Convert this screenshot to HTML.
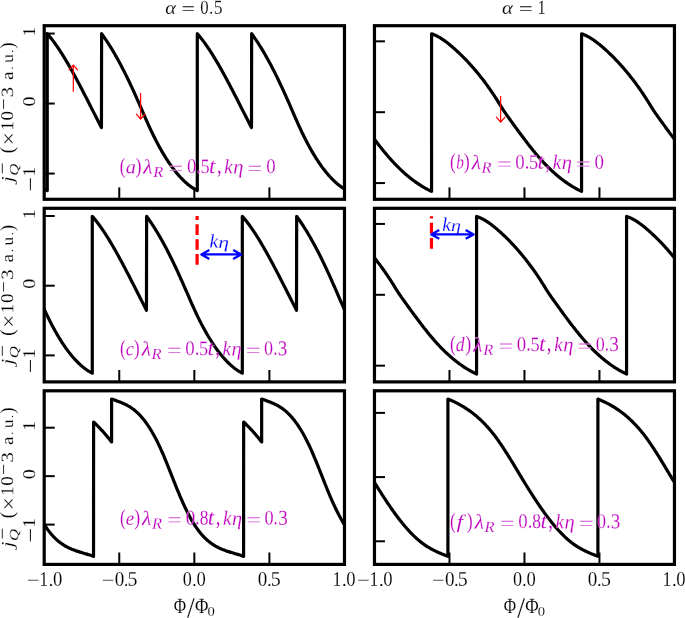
<!DOCTYPE html>
<html><head><meta charset="utf-8"><style>html,body{margin:0;padding:0;background:#fff;overflow:hidden}svg{display:block;will-change:transform}text{font-family:"Liberation Serif",serif;font-kerning:none}</style></head><body>
<svg width="685" height="618" viewBox="0 0 685 618" font-family="Liberation Serif, serif">
<rect width="685" height="618" fill="#fff"/>
<defs>
<clipPath id="cpa"><rect x="44.2" y="25.7" width="300.27000000000004" height="173.6"/></clipPath>
<clipPath id="cpb"><rect x="374.47" y="25.7" width="299.98" height="173.6"/></clipPath>
<clipPath id="cpc"><rect x="44.2" y="208.3" width="300.27000000000004" height="173.6"/></clipPath>
<clipPath id="cpd"><rect x="374.47" y="208.3" width="299.98" height="173.6"/></clipPath>
<clipPath id="cpe"><rect x="44.2" y="390.8" width="300.27000000000004" height="173.6"/></clipPath>
<clipPath id="cpf"><rect x="374.47" y="390.8" width="299.98" height="173.6"/></clipPath>
</defs>
<path clip-path="url(#cpa)" d="M40.20,186.19L40.98,186.76L41.77,187.31L42.55,187.84L43.33,188.35L44.12,188.84L44.90,189.31L45.68,189.76L46.47,190.18L47.25,190.59L47.25,33.71L48.00,34.57L48.76,35.45L49.51,36.35L50.26,37.27L51.01,38.21L51.77,39.16L52.52,40.14L53.27,41.14L54.02,42.15L54.78,43.18L55.53,44.23L56.28,45.30L57.04,46.38L57.79,47.48L58.54,48.60L59.29,49.73L60.05,50.88L60.80,52.04L61.55,53.22L62.31,54.42L63.06,55.62L63.81,56.84L64.56,58.08L65.32,59.32L66.07,60.58L66.82,61.85L67.57,63.14L68.33,64.43L69.08,65.74L69.83,67.06L70.59,68.38L71.34,69.72L72.09,71.07L72.84,72.43L73.60,73.79L74.35,75.17L75.10,76.55L75.86,77.95L76.61,79.35L77.36,80.75L78.11,82.17L78.87,83.59L79.62,85.02L80.37,86.45L81.12,87.89L81.88,89.33L82.63,90.78L83.38,92.24L84.14,93.70L84.89,95.16L85.64,96.62L86.39,98.09L87.15,99.56L87.90,101.04L88.65,102.52L89.41,103.99L90.16,105.47L90.91,106.95L91.66,108.44L92.42,109.92L93.17,111.40L93.92,112.88L94.67,114.36L95.43,115.84L96.18,117.32L96.93,118.80L97.69,120.28L98.44,121.75L99.19,123.22L99.94,124.69L100.70,126.15L101.45,127.61L101.60,33.70L102.35,34.74L103.11,35.79L103.86,36.86L104.61,37.94L105.37,39.04L106.12,40.16L106.87,41.29L107.63,42.44L108.38,43.60L109.14,44.78L109.89,45.98L110.64,47.19L111.40,48.42L112.15,49.66L112.90,50.92L113.66,52.19L114.41,53.48L115.16,54.79L115.92,56.11L116.67,57.44L117.42,58.79L118.18,60.16L118.93,61.54L119.69,62.93L120.44,64.34L121.19,65.76L121.95,67.20L122.70,68.65L123.45,70.12L124.21,71.60L124.96,73.10L125.71,74.61L126.47,76.13L127.22,77.67L127.97,79.22L128.73,80.78L129.48,82.36L130.23,83.95L130.99,85.56L131.74,87.18L132.50,88.81L133.25,90.45L134.00,92.11L134.76,93.77L135.51,95.45L136.26,97.13L137.02,98.82L137.77,100.52L138.52,102.23L139.28,103.95L140.03,105.67L140.78,107.40L141.54,109.13L142.29,110.87L143.04,112.60L143.80,114.34L144.55,116.07L145.31,117.79L146.06,119.51L146.81,121.21L147.57,122.91L148.32,124.59L149.07,126.25L149.83,127.90L150.58,129.52L151.33,131.12L152.09,132.71L152.84,134.27L153.59,135.81L154.35,137.33L155.10,138.82L155.86,140.30L156.61,141.76L157.36,143.19L158.12,144.61L158.87,146.00L159.62,147.38L160.38,148.73L161.13,150.06L161.88,151.37L162.64,152.66L163.39,153.93L164.14,155.18L164.90,156.41L165.65,157.62L166.40,158.81L167.16,159.98L167.91,161.13L168.67,162.26L169.42,163.36L170.17,164.45L170.93,165.52L171.68,166.57L172.43,167.60L173.19,168.60L173.94,169.59L174.69,170.56L175.45,171.51L176.20,172.44L176.95,173.35L177.71,174.24L178.46,175.11L179.21,175.96L179.97,176.79L180.72,177.60L181.48,178.39L182.23,179.16L182.98,179.91L183.74,180.65L184.49,181.36L185.24,182.06L186.00,182.73L186.75,183.39L187.50,184.03L188.26,184.65L189.01,185.24L189.76,185.83L190.52,186.39L191.27,186.93L192.03,187.45L192.78,187.96L193.53,188.44L194.29,188.91L195.04,189.36L195.79,189.79L196.55,190.20L197.30,190.59L197.30,33.71L198.05,34.57L198.81,35.45L199.56,36.35L200.31,37.27L201.06,38.21L201.82,39.16L202.57,40.14L203.32,41.14L204.08,42.15L204.83,43.18L205.58,44.23L206.33,45.30L207.09,46.38L207.84,47.48L208.59,48.60L209.34,49.73L210.10,50.88L210.85,52.04L211.60,53.22L212.36,54.42L213.11,55.62L213.86,56.84L214.61,58.08L215.37,59.32L216.12,60.58L216.87,61.85L217.62,63.14L218.38,64.43L219.13,65.74L219.88,67.06L220.64,68.38L221.39,69.72L222.14,71.07L222.89,72.43L223.65,73.79L224.40,75.17L225.15,76.55L225.91,77.95L226.66,79.35L227.41,80.75L228.16,82.17L228.92,83.59L229.67,85.02L230.42,86.45L231.18,87.89L231.93,89.33L232.68,90.78L233.43,92.24L234.19,93.70L234.94,95.16L235.69,96.62L236.44,98.09L237.20,99.56L237.95,101.04L238.70,102.52L239.46,103.99L240.21,105.47L240.96,106.95L241.71,108.44L242.47,109.92L243.22,111.40L243.97,112.88L244.72,114.36L245.48,115.84L246.23,117.32L246.98,118.80L247.74,120.28L248.49,121.75L249.24,123.22L249.99,124.69L250.75,126.15L251.50,127.61L251.65,33.70L252.40,34.74L253.16,35.79L253.91,36.86L254.66,37.94L255.42,39.04L256.17,40.16L256.92,41.29L257.68,42.44L258.43,43.60L259.19,44.78L259.94,45.98L260.69,47.19L261.45,48.42L262.20,49.66L262.95,50.92L263.71,52.19L264.46,53.48L265.21,54.79L265.97,56.11L266.72,57.44L267.47,58.79L268.23,60.16L268.98,61.54L269.74,62.93L270.49,64.34L271.24,65.76L272.00,67.20L272.75,68.65L273.50,70.12L274.26,71.60L275.01,73.10L275.76,74.61L276.52,76.13L277.27,77.67L278.02,79.22L278.78,80.78L279.53,82.36L280.28,83.95L281.04,85.56L281.79,87.18L282.55,88.81L283.30,90.45L284.05,92.11L284.81,93.77L285.56,95.45L286.31,97.13L287.07,98.82L287.82,100.52L288.57,102.23L289.33,103.95L290.08,105.67L290.83,107.40L291.59,109.13L292.34,110.87L293.09,112.60L293.85,114.34L294.60,116.07L295.36,117.79L296.11,119.51L296.86,121.21L297.62,122.91L298.37,124.59L299.12,126.25L299.88,127.90L300.63,129.52L301.38,131.12L302.14,132.71L302.89,134.27L303.64,135.81L304.40,137.33L305.15,138.82L305.91,140.30L306.66,141.76L307.41,143.19L308.17,144.61L308.92,146.00L309.67,147.38L310.43,148.73L311.18,150.06L311.93,151.37L312.69,152.66L313.44,153.93L314.19,155.18L314.95,156.41L315.70,157.62L316.45,158.81L317.21,159.98L317.96,161.13L318.72,162.26L319.47,163.36L320.22,164.45L320.98,165.52L321.73,166.57L322.48,167.60L323.24,168.60L323.99,169.59L324.74,170.56L325.50,171.51L326.25,172.44L327.00,173.35L327.76,174.24L328.51,175.11L329.26,175.96L330.02,176.79L330.77,177.60L331.53,178.39L332.28,179.16L333.03,179.91L333.79,180.65L334.54,181.36L335.29,182.06L336.05,182.73L336.80,183.39L337.55,184.03L338.31,184.65L339.06,185.24L339.81,185.83L340.57,186.39L341.32,186.93L342.08,187.45L342.83,187.96L343.58,188.44L344.34,188.91L345.09,189.36L345.84,189.79L346.60,190.20L347.35,190.59L347.35,33.71L348.47,35.00" fill="none" stroke="#000" stroke-width="3.2" stroke-linejoin="round" stroke-linecap="butt"/>
<path clip-path="url(#cpb)" d="M370.47,133.99L371.22,135.01L371.98,136.02L372.73,137.03L373.49,138.04L374.24,139.04L375.00,140.04L375.75,141.03L376.50,142.02L377.26,143.00L378.01,143.98L378.77,144.95L379.52,145.91L380.27,146.87L381.03,147.82L381.78,148.76L382.54,149.70L383.29,150.63L384.05,151.56L384.80,152.47L385.55,153.38L386.31,154.28L387.06,155.17L387.82,156.05L388.57,156.92L389.32,157.79L390.08,158.64L390.83,159.49L391.59,160.32L392.34,161.15L393.10,161.97L393.85,162.77L394.60,163.57L395.36,164.36L396.11,165.14L396.87,165.91L397.62,166.67L398.38,167.42L399.13,168.16L399.88,168.89L400.64,169.62L401.39,170.33L402.15,171.03L402.90,171.73L403.65,172.41L404.41,173.09L405.16,173.76L405.92,174.41L406.67,175.06L407.43,175.70L408.18,176.33L408.93,176.95L409.69,177.56L410.44,178.17L411.20,178.76L411.95,179.35L412.71,179.92L413.46,180.49L414.21,181.04L414.97,181.59L415.72,182.13L416.48,182.66L417.23,183.18L417.98,183.70L418.74,184.20L419.49,184.69L420.25,185.18L421.00,185.66L421.76,186.12L422.51,186.58L423.26,187.03L424.02,187.47L424.77,187.91L425.53,188.33L426.28,188.74L427.03,189.15L427.79,189.55L428.54,189.93L429.30,190.31L430.05,190.69L430.81,191.05L431.56,191.40L431.56,33.80L432.31,34.06L433.07,34.33L433.82,34.62L434.58,34.94L435.33,35.27L436.08,35.62L436.84,35.99L437.59,36.38L438.34,36.79L439.10,37.21L439.85,37.65L440.61,38.11L441.36,38.58L442.11,39.06L442.87,39.56L443.62,40.08L444.37,40.61L445.13,41.15L445.88,41.71L446.64,42.27L447.39,42.85L448.14,43.44L448.90,44.04L449.65,44.66L450.40,45.28L451.16,45.91L451.91,46.55L452.67,47.20L453.42,47.86L454.17,48.53L454.93,49.20L455.68,49.88L456.43,50.57L457.19,51.26L457.94,51.97L458.70,52.68L459.45,53.39L460.20,54.11L460.96,54.85L461.71,55.58L462.46,56.33L463.22,57.08L463.97,57.84L464.73,58.61L465.48,59.39L466.23,60.17L466.99,60.97L467.74,61.77L468.49,62.58L469.25,63.39L470.00,64.22L470.76,65.05L471.51,65.89L472.26,66.74L473.02,67.60L473.77,68.47L474.52,69.35L475.28,70.23L476.03,71.13L476.79,72.03L477.54,72.94L478.29,73.86L479.05,74.79L479.80,75.73L480.55,76.68L481.31,77.64L482.06,78.61L482.82,79.58L483.57,80.57L484.32,81.56L485.08,82.57L485.83,83.59L486.59,84.61L487.34,85.65L488.09,86.69L488.85,87.75L489.60,88.82L490.35,89.90L491.11,90.99L491.86,92.10L492.62,93.21L493.37,94.34L494.12,95.48L494.88,96.63L495.63,97.80L496.38,98.98L497.14,100.17L497.89,101.38L498.65,102.59L499.40,103.81L500.15,105.03L500.91,106.24L501.66,107.44L502.41,108.63L503.17,109.79L503.92,110.94L504.68,112.06L505.43,113.16L506.18,114.25L506.94,115.32L507.69,116.39L508.44,117.44L509.20,118.49L509.95,119.53L510.71,120.58L511.46,121.62L512.21,122.67L512.97,123.71L513.72,124.75L514.47,125.79L515.23,126.83L515.98,127.87L516.74,128.90L517.49,129.94L518.24,130.97L519.00,131.99L519.75,133.02L520.50,134.04L521.26,135.05L522.01,136.07L522.77,137.08L523.52,138.08L524.27,139.08L525.03,140.08L525.78,141.07L526.53,142.06L527.29,143.04L528.04,144.01L528.80,144.98L529.55,145.95L530.30,146.91L531.06,147.86L531.81,148.80L532.57,149.74L533.32,150.67L534.07,151.59L534.83,152.50L535.58,153.41L536.33,154.31L537.09,155.20L537.84,156.08L538.60,156.95L539.35,157.82L540.10,158.67L540.86,159.51L541.61,160.35L542.36,161.17L543.12,161.99L543.87,162.80L544.63,163.59L545.38,164.38L546.13,165.16L546.89,165.93L547.64,166.69L548.39,167.44L549.15,168.18L549.90,168.91L550.66,169.63L551.41,170.34L552.16,171.05L552.92,171.74L553.67,172.43L554.42,173.10L555.18,173.77L555.93,174.43L556.69,175.07L557.44,175.71L558.19,176.34L558.95,176.96L559.70,177.57L560.45,178.18L561.21,178.77L561.96,179.35L562.72,179.93L563.47,180.49L564.22,181.05L564.98,181.60L565.73,182.14L566.48,182.67L567.24,183.19L567.99,183.70L568.75,184.20L569.50,184.70L570.25,185.18L571.01,185.66L571.76,186.13L572.51,186.58L573.27,187.03L574.02,187.48L574.78,187.91L575.53,188.33L576.28,188.74L577.04,189.15L577.79,189.55L578.54,189.94L579.30,190.32L580.05,190.69L580.81,191.05L581.56,191.40L581.56,33.80L582.31,34.06L583.06,34.33L583.81,34.62L584.56,34.93L585.32,35.27L586.07,35.62L586.82,35.99L587.57,36.37L588.32,36.78L589.07,37.20L589.82,37.63L590.57,38.09L591.32,38.56L592.08,39.04L592.83,39.54L593.58,40.05L594.33,40.58L595.08,41.11L595.83,41.67L596.58,42.23L597.33,42.81L598.08,43.40L598.83,43.99L599.59,44.60L600.34,45.22L601.09,45.85L601.84,46.49L602.59,47.14L603.34,47.79L604.09,48.46L604.84,49.13L605.59,49.80L606.35,50.49L607.10,51.18L607.85,51.88L608.60,52.58L609.35,53.30L610.10,54.02L610.85,54.74L611.60,55.48L612.35,56.22L613.11,56.97L613.86,57.73L614.61,58.49L615.36,59.27L616.11,60.05L616.86,60.83L617.61,61.63L618.36,62.43L619.11,63.25L619.87,64.07L620.62,64.90L621.37,65.73L622.12,66.58L622.87,67.43L623.62,68.30L624.37,69.17L625.12,70.05L625.87,70.94L626.63,71.84L627.38,72.74L628.13,73.66L628.88,74.58L629.63,75.52L630.38,76.46L631.13,77.41L631.88,78.37L632.63,79.34L633.38,80.33L634.14,81.32L634.89,82.32L635.64,83.32L636.39,84.34L637.14,85.37L637.89,86.41L638.64,87.46L639.39,88.53L640.14,89.60L640.90,90.68L641.65,91.78L642.40,92.89L643.15,94.01L643.90,95.14L644.65,96.29L645.40,97.45L646.15,98.62L646.90,99.80L647.66,101.00L648.41,102.21L649.16,103.42L649.91,104.64L650.66,105.85L651.41,107.05L652.16,108.23L652.91,109.40L653.66,110.55L654.42,111.67L655.17,112.78L655.92,113.87L656.67,114.94L657.42,116.00L658.17,117.06L658.92,118.10L659.67,119.15L660.42,120.19L661.18,121.23L661.93,122.27L662.68,123.31L663.43,124.35L664.18,125.39L664.93,126.42L665.68,127.45L666.43,128.49L667.18,129.52L667.93,130.54L668.69,131.57L669.44,132.59L670.19,133.61L670.94,134.62L671.69,135.64L672.44,136.64L673.19,137.65L673.94,138.65L674.69,139.64L675.45,140.63L676.20,141.62L676.95,142.60L677.70,143.57L678.45,144.54" fill="none" stroke="#000" stroke-width="3.2" stroke-linejoin="round" stroke-linecap="butt"/>
<path clip-path="url(#cpc)" d="M40.20,300.23L40.95,301.95L41.71,303.66L42.46,305.36L43.22,307.04L43.97,308.71L44.73,310.36L45.48,311.99L46.24,313.59L46.99,315.18L47.75,316.74L48.50,318.29L49.25,319.81L50.01,321.31L50.76,322.79L51.52,324.25L52.27,325.69L53.03,327.11L53.78,328.51L54.54,329.88L55.29,331.24L56.05,332.57L56.80,333.89L57.56,335.18L58.31,336.46L59.06,337.71L59.82,338.94L60.57,340.15L61.33,341.34L62.08,342.52L62.84,343.67L63.59,344.80L64.35,345.91L65.10,347.00L65.86,348.07L66.61,349.12L67.36,350.15L68.12,351.16L68.87,352.15L69.63,353.12L70.38,354.07L71.14,355.00L71.89,355.91L72.65,356.81L73.40,357.68L74.16,358.53L74.91,359.36L75.66,360.17L76.42,360.97L77.17,361.74L77.93,362.50L78.68,363.23L79.44,363.95L80.19,364.64L80.95,365.32L81.70,365.98L82.46,366.62L83.21,367.24L83.96,367.84L84.72,368.42L85.47,368.98L86.23,369.52L86.98,370.05L87.74,370.55L88.49,371.04L89.25,371.51L90.00,371.96L90.76,372.39L91.51,372.80L92.27,373.19L92.27,216.31L93.02,217.17L93.77,218.05L94.52,218.95L95.28,219.87L96.03,220.81L96.78,221.76L97.53,222.74L98.29,223.74L99.04,224.75L99.79,225.78L100.55,226.83L101.30,227.90L102.05,228.98L102.80,230.08L103.56,231.20L104.31,232.33L105.06,233.48L105.81,234.64L106.57,235.82L107.32,237.02L108.07,238.22L108.83,239.44L109.58,240.68L110.33,241.92L111.08,243.18L111.84,244.45L112.59,245.74L113.34,247.03L114.10,248.34L114.85,249.66L115.60,250.98L116.35,252.32L117.11,253.67L117.86,255.03L118.61,256.39L119.36,257.77L120.12,259.15L120.87,260.55L121.62,261.95L122.38,263.35L123.13,264.77L123.88,266.19L124.63,267.62L125.39,269.05L126.14,270.49L126.89,271.93L127.65,273.38L128.40,274.84L129.15,276.30L129.90,277.76L130.66,279.22L131.41,280.69L132.16,282.16L132.91,283.64L133.67,285.12L134.42,286.59L135.17,288.07L135.93,289.55L136.68,291.04L137.43,292.52L138.18,294.00L138.94,295.48L139.69,296.96L140.44,298.44L141.20,299.92L141.95,301.40L142.70,302.88L143.45,304.35L144.21,305.82L144.96,307.29L145.71,308.75L146.46,310.21L146.62,216.30L147.37,217.34L148.12,218.39L148.88,219.46L149.63,220.54L150.38,221.64L151.14,222.76L151.89,223.89L152.64,225.04L153.40,226.20L154.15,227.38L154.90,228.58L155.66,229.79L156.41,231.02L157.16,232.26L157.92,233.52L158.67,234.79L159.43,236.08L160.18,237.39L160.93,238.71L161.69,240.04L162.44,241.39L163.19,242.76L163.95,244.14L164.70,245.53L165.45,246.94L166.21,248.36L166.96,249.80L167.71,251.25L168.47,252.72L169.22,254.20L169.97,255.70L170.73,257.21L171.48,258.73L172.24,260.27L172.99,261.82L173.74,263.38L174.50,264.96L175.25,266.55L176.00,268.16L176.76,269.78L177.51,271.41L178.26,273.05L179.02,274.71L179.77,276.37L180.52,278.05L181.28,279.73L182.03,281.42L182.79,283.12L183.54,284.83L184.29,286.55L185.05,288.27L185.80,290.00L186.55,291.73L187.31,293.47L188.06,295.20L188.81,296.94L189.57,298.67L190.32,300.39L191.07,302.11L191.83,303.81L192.58,305.51L193.33,307.19L194.09,308.85L194.84,310.50L195.60,312.12L196.35,313.72L197.10,315.31L197.86,316.87L198.61,318.41L199.36,319.93L200.12,321.42L200.87,322.90L201.62,324.36L202.38,325.79L203.13,327.21L203.88,328.60L204.64,329.98L205.39,331.33L206.14,332.66L206.90,333.97L207.65,335.26L208.41,336.53L209.16,337.78L209.91,339.01L210.67,340.22L211.42,341.41L212.17,342.58L212.93,343.73L213.68,344.86L214.43,345.96L215.19,347.05L215.94,348.12L216.69,349.17L217.45,350.20L218.20,351.20L218.96,352.19L219.71,353.16L220.46,354.11L221.22,355.04L221.97,355.95L222.72,356.84L223.48,357.71L224.23,358.56L224.98,359.39L225.74,360.20L226.49,360.99L227.24,361.76L228.00,362.51L228.75,363.25L229.50,363.96L230.26,364.66L231.01,365.33L231.77,365.99L232.52,366.63L233.27,367.25L234.03,367.84L234.78,368.43L235.53,368.99L236.29,369.53L237.04,370.05L237.79,370.56L238.55,371.04L239.30,371.51L240.05,371.96L240.81,372.39L241.56,372.80L242.32,373.19L242.31,216.31L243.07,217.17L243.82,218.05L244.57,218.95L245.33,219.87L246.08,220.81L246.83,221.76L247.58,222.74L248.34,223.74L249.09,224.75L249.84,225.78L250.60,226.83L251.35,227.90L252.10,228.98L252.85,230.08L253.61,231.20L254.36,232.33L255.11,233.48L255.87,234.64L256.62,235.82L257.37,237.02L258.12,238.22L258.88,239.44L259.63,240.68L260.38,241.92L261.13,243.18L261.89,244.45L262.64,245.74L263.39,247.03L264.15,248.34L264.90,249.66L265.65,250.98L266.40,252.32L267.16,253.67L267.91,255.03L268.66,256.39L269.41,257.77L270.17,259.15L270.92,260.55L271.67,261.95L272.43,263.35L273.18,264.77L273.93,266.19L274.68,267.62L275.44,269.05L276.19,270.49L276.94,271.93L277.70,273.38L278.45,274.84L279.20,276.30L279.95,277.76L280.71,279.22L281.46,280.69L282.21,282.16L282.96,283.64L283.72,285.12L284.47,286.59L285.22,288.07L285.98,289.55L286.73,291.04L287.48,292.52L288.23,294.00L288.99,295.48L289.74,296.96L290.49,298.44L291.25,299.92L292.00,301.40L292.75,302.88L293.50,304.35L294.26,305.82L295.01,307.29L295.76,308.75L296.51,310.21L296.67,216.30L297.42,217.33L298.17,218.38L298.92,219.44L299.67,220.52L300.42,221.62L301.17,222.73L301.92,223.86L302.67,225.00L303.42,226.16L304.17,227.34L304.92,228.53L305.67,229.74L306.43,230.96L307.18,232.20L307.93,233.45L308.68,234.72L309.43,236.00L310.18,237.30L310.93,238.62L311.68,239.94L312.43,241.29L313.18,242.65L313.93,244.02L314.68,245.41L315.43,246.81L316.19,248.23L316.94,249.66L317.69,251.10L318.44,252.56L319.19,254.04L319.94,255.53L320.69,257.03L321.44,258.54L322.19,260.08L322.94,261.62L323.69,263.18L324.44,264.75L325.20,266.33L325.95,267.93L326.70,269.54L327.45,271.17L328.20,272.80L328.95,274.45L329.70,276.11L330.45,277.77L331.20,279.45L331.95,281.13L332.70,282.83L333.45,284.53L334.20,286.24L334.96,287.95L335.71,289.67L336.46,291.40L337.21,293.13L337.96,294.85L338.71,296.58L339.46,298.31L340.21,300.03L340.96,301.74L341.71,303.44L342.46,305.13L343.21,306.81L343.97,308.47L344.72,310.12L345.47,311.74L346.22,313.34L346.97,314.92L347.72,316.48L348.47,318.02" fill="none" stroke="#000" stroke-width="3.2" stroke-linejoin="round" stroke-linecap="butt"/>
<path clip-path="url(#cpd)" d="M370.47,253.06L371.22,253.95L371.97,254.86L372.73,255.77L373.48,256.69L374.23,257.62L374.98,258.56L375.74,259.51L376.49,260.47L377.24,261.44L377.99,262.41L378.75,263.40L379.50,264.40L380.25,265.40L381.00,266.42L381.76,267.45L382.51,268.48L383.26,269.53L384.01,270.59L384.77,271.66L385.52,272.74L386.27,273.83L387.02,274.93L387.78,276.05L388.53,277.18L389.28,278.32L390.03,279.47L390.79,280.64L391.54,281.82L392.29,283.02L393.04,284.22L393.79,285.44L394.55,286.65L395.30,287.87L396.05,289.07L396.80,290.27L397.56,291.45L398.31,292.61L399.06,293.75L399.81,294.86L400.57,295.96L401.32,297.04L402.07,298.11L402.82,299.17L403.58,300.22L404.33,301.27L405.08,302.31L405.83,303.36L406.59,304.40L407.34,305.44L408.09,306.48L408.84,307.52L409.60,308.56L410.35,309.60L411.10,310.63L411.85,311.66L412.61,312.69L413.36,313.72L414.11,314.75L414.86,315.77L415.61,316.79L416.37,317.80L417.12,318.81L417.87,319.82L418.62,320.82L419.38,321.82L420.13,322.81L420.88,323.80L421.63,324.79L422.39,325.77L423.14,326.74L423.89,327.71L424.64,328.67L425.40,329.62L426.15,330.57L426.90,331.51L427.65,332.45L428.41,333.37L429.16,334.29L429.91,335.20L430.66,336.11L431.42,337.00L432.17,337.89L432.92,338.77L433.67,339.64L434.42,340.50L435.18,341.35L435.93,342.20L436.68,343.03L437.43,343.85L438.19,344.66L438.94,345.47L439.69,346.26L440.44,347.05L441.20,347.83L441.95,348.59L442.70,349.35L443.45,350.10L444.21,350.84L444.96,351.57L445.71,352.29L446.46,353.00L447.22,353.70L447.97,354.39L448.72,355.07L449.47,355.75L450.23,356.41L450.98,357.07L451.73,357.71L452.48,358.35L453.24,358.98L453.99,359.60L454.74,360.21L455.49,360.81L456.24,361.40L457.00,361.98L457.75,362.55L458.50,363.12L459.25,363.67L460.01,364.22L460.76,364.76L461.51,365.29L462.26,365.81L463.02,366.32L463.77,366.82L464.52,367.31L465.27,367.80L466.03,368.27L466.78,368.74L467.53,369.19L468.28,369.64L469.04,370.08L469.79,370.51L470.54,370.94L471.29,371.35L472.05,371.75L472.80,372.15L473.55,372.54L474.30,372.92L475.06,373.29L475.81,373.65L476.56,374.00L476.56,216.40L477.31,216.66L478.07,216.93L478.82,217.22L479.58,217.54L480.33,217.87L481.08,218.22L481.84,218.59L482.59,218.98L483.34,219.39L484.10,219.81L484.85,220.25L485.61,220.71L486.36,221.18L487.11,221.66L487.87,222.16L488.62,222.68L489.37,223.21L490.13,223.75L490.88,224.31L491.64,224.87L492.39,225.45L493.14,226.04L493.90,226.64L494.65,227.26L495.40,227.88L496.16,228.51L496.91,229.15L497.67,229.80L498.42,230.46L499.17,231.13L499.93,231.80L500.68,232.48L501.43,233.17L502.19,233.86L502.94,234.57L503.70,235.28L504.45,235.99L505.20,236.71L505.96,237.45L506.71,238.18L507.46,238.93L508.22,239.68L508.97,240.44L509.73,241.21L510.48,241.99L511.23,242.77L511.99,243.57L512.74,244.37L513.49,245.18L514.25,245.99L515.00,246.82L515.76,247.65L516.51,248.49L517.26,249.34L518.02,250.20L518.77,251.07L519.52,251.95L520.28,252.83L521.03,253.73L521.79,254.63L522.54,255.54L523.29,256.46L524.05,257.39L524.80,258.33L525.55,259.28L526.31,260.24L527.06,261.21L527.82,262.18L528.57,263.17L529.32,264.16L530.08,265.17L530.83,266.19L531.59,267.21L532.34,268.25L533.09,269.29L533.85,270.35L534.60,271.42L535.35,272.50L536.11,273.59L536.86,274.70L537.62,275.81L538.37,276.94L539.12,278.08L539.88,279.23L540.63,280.40L541.38,281.58L542.14,282.77L542.89,283.98L543.65,285.19L544.40,286.41L545.15,287.63L545.91,288.84L546.66,290.04L547.41,291.23L548.17,292.39L548.92,293.54L549.68,294.66L550.43,295.76L551.18,296.85L551.94,297.92L552.69,298.99L553.44,300.04L554.20,301.09L554.95,302.13L555.71,303.18L556.46,304.22L557.21,305.27L557.97,306.31L558.72,307.35L559.47,308.39L560.23,309.43L560.98,310.47L561.74,311.50L562.49,312.54L563.24,313.57L564.00,314.59L564.75,315.62L565.50,316.64L566.26,317.65L567.01,318.67L567.77,319.68L568.52,320.68L569.27,321.68L570.03,322.68L570.78,323.67L571.53,324.66L572.29,325.64L573.04,326.61L573.80,327.58L574.55,328.55L575.30,329.51L576.06,330.46L576.81,331.40L577.57,332.34L578.32,333.27L579.07,334.19L579.83,335.10L580.58,336.01L581.33,336.91L582.09,337.80L582.84,338.68L583.60,339.55L584.35,340.42L585.10,341.27L585.86,342.11L586.61,342.95L587.36,343.77L588.12,344.59L588.87,345.40L589.63,346.19L590.38,346.98L591.13,347.76L591.89,348.53L592.64,349.29L593.39,350.04L594.15,350.78L594.90,351.51L595.66,352.23L596.41,352.94L597.16,353.65L597.92,354.34L598.67,355.03L599.42,355.70L600.18,356.37L600.93,357.03L601.69,357.67L602.44,358.31L603.19,358.94L603.95,359.56L604.70,360.17L605.45,360.78L606.21,361.37L606.96,361.95L607.72,362.53L608.47,363.09L609.22,363.65L609.98,364.20L610.73,364.74L611.48,365.27L612.24,365.79L612.99,366.30L613.75,366.80L614.50,367.30L615.25,367.78L616.01,368.26L616.76,368.73L617.51,369.18L618.27,369.63L619.02,370.08L619.78,370.51L620.53,370.93L621.28,371.34L622.04,371.75L622.79,372.15L623.54,372.54L624.30,372.92L625.05,373.29L625.81,373.65L626.56,374.00L626.56,216.40L627.31,216.66L628.06,216.93L628.82,217.22L629.57,217.54L630.32,217.87L631.07,218.22L631.82,218.59L632.58,218.98L633.33,219.38L634.08,219.80L634.83,220.24L635.58,220.69L636.34,221.16L637.09,221.65L637.84,222.15L638.59,222.66L639.34,223.19L640.10,223.73L640.85,224.28L641.60,224.85L642.35,225.42L643.10,226.01L643.86,226.61L644.61,227.22L645.36,227.84L646.11,228.47L646.86,229.11L647.62,229.76L648.37,230.42L649.12,231.08L649.87,231.75L650.62,232.43L651.38,233.12L652.13,233.81L652.88,234.51L653.63,235.22L654.39,235.93L655.14,236.65L655.89,237.38L656.64,238.12L657.39,238.86L658.15,239.61L658.90,240.37L659.65,241.13L660.40,241.91L661.15,242.69L661.91,243.48L662.66,244.28L663.41,245.08L664.16,245.90L664.91,246.72L665.67,247.55L666.42,248.39L667.17,249.24L667.92,250.09L668.67,250.96L669.43,251.83L670.18,252.71L670.93,253.60L671.68,254.50L672.43,255.41L673.19,256.33L673.94,257.26L674.69,258.19L675.44,259.14L676.19,260.09L676.95,261.05L677.70,262.03L678.45,263.01" fill="none" stroke="#000" stroke-width="3.2" stroke-linejoin="round" stroke-linecap="butt"/>
<path clip-path="url(#cpe)" d="M40.20,517.59L40.95,518.94L41.70,520.26L42.45,521.55L43.21,522.81L43.96,524.03L44.71,525.22L45.46,526.37L46.21,527.49L46.96,528.57L47.71,529.61L48.47,530.63L49.22,531.61L49.97,532.55L50.72,533.47L51.47,534.36L52.22,535.21L52.97,536.04L53.73,536.84L54.48,537.60L55.23,538.35L55.98,539.06L56.73,539.75L57.48,540.42L58.23,541.06L58.99,541.67L59.74,542.27L60.49,542.84L61.24,543.39L61.99,543.91L62.74,544.42L63.49,544.91L64.25,545.38L65.00,545.83L65.75,546.26L66.50,546.68L67.25,547.08L68.00,547.47L68.75,547.84L69.50,548.19L70.26,548.54L71.01,548.87L71.76,549.19L72.51,549.49L73.26,549.79L74.01,550.08L74.76,550.36L75.52,550.63L76.27,550.89L77.02,551.14L77.77,551.39L78.52,551.63L79.27,551.87L80.02,552.11L80.78,552.34L81.53,552.57L82.28,552.79L83.03,553.02L83.78,553.24L84.53,553.46L85.28,553.69L86.04,553.91L86.79,554.14L87.54,554.37L88.29,554.61L89.04,554.85L89.79,555.09L90.54,555.34L91.30,555.59L92.05,555.86L92.80,556.13L93.55,556.41L93.60,422.00L94.35,422.71L95.10,423.42L95.85,424.15L96.60,424.89L97.35,425.64L98.10,426.40L98.85,427.17L99.60,427.95L100.35,428.74L101.10,429.55L101.85,430.36L102.60,431.18L103.35,432.02L104.10,432.86L104.85,433.72L105.60,434.59L106.35,435.46L107.10,436.35L107.85,437.25L108.60,438.16L109.35,439.08L110.10,440.01L110.85,440.95L111.60,441.90L111.60,399.00L112.35,399.27L113.10,399.54L113.85,399.81L114.60,400.08L115.35,400.35L116.10,400.62L116.85,400.89L117.60,401.16L118.35,401.44L119.10,401.73L119.85,402.02L120.60,402.31L121.35,402.62L122.10,402.93L122.85,403.25L123.60,403.58L124.35,403.93L125.10,404.29L125.85,404.66L126.60,405.04L127.35,405.44L128.10,405.86L128.85,406.29L129.60,406.74L130.35,407.21L131.10,407.70L131.85,408.22L132.60,408.75L133.35,409.31L134.10,409.89L134.85,410.49L135.60,411.12L136.35,411.78L137.10,412.46L137.85,413.17L138.60,413.91L139.35,414.67L140.10,415.46L140.85,416.28L141.60,417.13L142.35,418.00L143.10,418.90L143.85,419.84L144.60,420.80L145.35,421.79L146.10,422.81L146.85,423.85L147.60,424.93L148.35,426.04L149.10,427.18L149.85,428.35L150.60,429.56L151.35,430.79L152.10,432.05L152.85,433.35L153.60,434.68L154.35,436.04L155.10,437.43L155.85,438.86L156.60,440.32L157.35,441.82L158.10,443.34L158.85,444.90L159.60,446.50L160.35,448.13L161.10,449.79L161.85,451.49L162.60,453.21L163.35,454.96L164.10,456.74L164.85,458.54L165.60,460.36L166.35,462.19L167.10,464.04L167.85,465.91L168.60,467.79L169.35,469.67L170.10,471.56L170.85,473.46L171.60,475.36L172.35,477.26L173.10,479.16L173.85,481.05L174.60,482.93L175.35,484.81L176.10,486.68L176.85,488.53L177.60,490.36L178.35,492.18L179.10,493.98L179.85,495.76L180.60,497.51L181.35,499.23L182.10,500.93L182.85,502.61L183.60,504.25L184.35,505.87L185.10,507.46L185.85,509.02L186.60,510.56L187.35,512.06L188.10,513.53L188.85,514.98L189.60,516.39L190.35,517.77L191.10,519.12L191.85,520.43L192.60,521.72L193.35,522.96L194.10,524.18L194.85,525.36L195.60,526.50L196.35,527.61L197.10,528.69L197.85,529.73L198.60,530.74L199.35,531.71L200.10,532.65L200.85,533.57L201.60,534.45L202.35,535.30L203.10,536.12L203.85,536.91L204.60,537.68L205.35,538.42L206.10,539.13L206.85,539.81L207.60,540.47L208.35,541.11L209.10,541.72L209.85,542.31L210.60,542.88L211.35,543.43L212.10,543.95L212.85,544.46L213.60,544.94L214.35,545.41L215.10,545.86L215.85,546.29L216.60,546.71L217.35,547.11L218.10,547.49L218.85,547.86L219.60,548.21L220.35,548.56L221.10,548.88L221.85,549.20L222.60,549.51L223.35,549.80L224.10,550.09L224.85,550.37L225.60,550.64L226.35,550.90L227.10,551.15L227.85,551.40L228.60,551.64L229.35,551.88L230.10,552.12L230.85,552.35L231.60,552.57L232.35,552.80L233.10,553.02L233.85,553.25L234.60,553.47L235.35,553.69L236.10,553.92L236.85,554.15L237.60,554.38L238.35,554.61L239.10,554.85L239.85,555.09L240.60,555.34L241.35,555.60L242.10,555.86L242.85,556.13L243.60,556.41L243.65,422.00L244.43,422.74L245.22,423.49L246.00,424.25L246.78,425.02L247.56,425.80L248.35,426.60L249.13,427.41L249.91,428.23L250.69,429.06L251.48,429.90L252.26,430.75L253.04,431.62L253.82,432.50L254.61,433.38L255.39,434.28L256.17,435.20L256.95,436.12L257.74,437.05L258.52,438.00L259.30,438.96L260.08,439.93L260.87,440.91L261.65,441.90L261.65,399.00L262.40,399.28L263.16,399.55L263.91,399.82L264.67,400.09L265.42,400.36L266.18,400.63L266.93,400.90L267.69,401.18L268.44,401.46L269.20,401.75L269.95,402.04L270.71,402.34L271.46,402.64L272.22,402.96L272.97,403.28L273.73,403.62L274.48,403.97L275.24,404.33L275.99,404.70L276.75,405.09L277.50,405.50L278.26,405.92L279.01,406.36L279.77,406.82L280.52,407.29L281.28,407.79L282.03,408.31L282.79,408.85L283.54,409.42L284.30,410.00L285.05,410.62L285.81,411.26L286.56,411.92L287.32,412.62L288.07,413.34L288.83,414.09L289.58,414.86L290.34,415.66L291.09,416.50L291.85,417.35L292.60,418.24L293.36,419.16L294.11,420.11L294.87,421.08L295.62,422.09L296.38,423.12L297.13,424.19L297.89,425.28L298.64,426.41L299.40,427.57L300.15,428.76L300.91,429.98L301.66,431.23L302.42,432.51L303.17,433.83L303.93,435.18L304.68,436.56L305.44,437.98L306.19,439.43L306.95,440.91L307.70,442.43L308.46,443.98L309.21,445.56L309.97,447.19L310.72,448.84L311.48,450.53L312.23,452.25L312.99,454.00L313.74,455.77L314.50,457.57L315.25,459.39L316.01,461.23L316.76,463.08L317.52,464.95L318.27,466.84L319.03,468.73L319.78,470.63L320.54,472.54L321.29,474.45L322.05,476.36L322.80,478.27L323.56,480.18L324.31,482.08L325.07,483.98L325.82,485.86L326.58,487.73L327.33,489.58L328.09,491.42L328.84,493.24L329.60,495.04L330.35,496.81L331.11,498.56L331.86,500.28L332.62,501.98L333.37,503.64L334.13,505.28L334.88,506.89L335.64,508.48L336.39,510.03L337.15,511.55L337.90,513.05L338.66,514.51L339.41,515.94L340.17,517.34L340.92,518.71L341.68,520.04L342.43,521.34L343.19,522.61L343.94,523.84L344.70,525.04L345.45,526.20L346.21,527.33L346.96,528.42L347.72,529.48L348.47,530.50" fill="none" stroke="#000" stroke-width="3.2" stroke-linejoin="round" stroke-linecap="butt"/>
<path clip-path="url(#cpf)" d="M370.47,475.82L371.22,477.07L371.97,478.31L372.73,479.55L373.48,480.79L374.23,482.02L374.98,483.25L375.73,484.48L376.48,485.70L377.24,486.91L377.99,488.12L378.74,489.32L379.49,490.52L380.24,491.71L380.99,492.89L381.75,494.07L382.50,495.24L383.25,496.41L384.00,497.56L384.75,498.71L385.50,499.86L386.26,500.99L387.01,502.12L387.76,503.24L388.51,504.35L389.26,505.46L390.02,506.55L390.77,507.64L391.52,508.72L392.27,509.79L393.02,510.85L393.77,511.90L394.53,512.94L395.28,513.97L396.03,514.99L396.78,516.00L397.53,517.00L398.28,518.00L399.04,518.98L399.79,519.95L400.54,520.91L401.29,521.86L402.04,522.79L402.80,523.72L403.55,524.63L404.30,525.53L405.05,526.42L405.80,527.30L406.55,528.17L407.31,529.02L408.06,529.86L408.81,530.69L409.56,531.51L410.31,532.31L411.06,533.10L411.82,533.87L412.57,534.63L413.32,535.38L414.07,536.11L414.82,536.83L415.57,537.54L416.33,538.22L417.08,538.90L417.83,539.56L418.58,540.20L419.33,540.83L420.09,541.45L420.84,542.05L421.59,542.63L422.34,543.20L423.09,543.75L423.84,544.29L424.60,544.82L425.35,545.33L426.10,545.83L426.85,546.31L427.60,546.79L428.35,547.25L429.11,547.70L429.86,548.14L430.61,548.57L431.36,548.99L432.11,549.40L432.87,549.79L433.62,550.18L434.37,550.56L435.12,550.93L435.87,551.30L436.62,551.65L437.38,552.00L438.13,552.34L438.88,552.67L439.63,553.00L440.38,553.32L441.13,553.64L441.89,553.95L442.64,554.25L443.39,554.55L444.14,554.85L444.89,555.14L445.64,555.43L446.40,555.72L447.15,556.00L447.90,556.28L447.90,399.03L448.65,399.34L449.40,399.65L450.15,399.97L450.90,400.30L451.65,400.63L452.40,400.97L453.15,401.32L453.90,401.67L454.65,402.03L455.40,402.39L456.15,402.77L456.90,403.15L457.65,403.53L458.40,403.93L459.15,404.33L459.90,404.74L460.65,405.16L461.40,405.59L462.15,406.02L462.90,406.46L463.65,406.92L464.40,407.38L465.15,407.85L465.90,408.33L466.65,408.82L467.40,409.32L468.15,409.83L468.90,410.35L469.65,410.88L470.40,411.42L471.15,411.97L471.90,412.53L472.65,413.10L473.40,413.69L474.15,414.28L474.90,414.89L475.65,415.51L476.40,416.14L477.15,416.78L477.90,417.44L478.65,418.10L479.40,418.78L480.15,419.48L480.90,420.18L481.65,420.90L482.40,421.63L483.15,422.38L483.90,423.14L484.65,423.91L485.40,424.70L486.15,425.50L486.90,426.32L487.65,427.15L488.40,427.99L489.15,428.86L489.90,429.73L490.65,430.62L491.40,431.53L492.15,432.45L492.90,433.39L493.65,434.34L494.40,435.31L495.15,436.30L495.90,437.30L496.65,438.32L497.40,439.36L498.15,440.41L498.90,441.47L499.65,442.55L500.40,443.64L501.15,444.74L501.90,445.86L502.65,446.99L503.40,448.12L504.15,449.27L504.90,450.43L505.65,451.60L506.40,452.78L507.15,453.96L507.90,455.16L508.65,456.36L509.40,457.56L510.15,458.78L510.90,460.00L511.65,461.22L512.40,462.45L513.15,463.68L513.90,464.92L514.65,466.16L515.40,467.40L516.15,468.65L516.90,469.89L517.65,471.14L518.40,472.39L519.15,473.63L519.90,474.88L520.65,476.12L521.40,477.36L522.15,478.60L522.90,479.84L523.65,481.08L524.40,482.30L525.15,483.53L525.90,484.75L526.65,485.97L527.40,487.17L528.15,488.38L528.90,489.58L529.65,490.77L530.40,491.96L531.15,493.14L531.90,494.31L532.65,495.48L533.40,496.64L534.15,497.79L534.90,498.94L535.65,500.08L536.40,501.21L537.15,502.33L537.90,503.45L538.65,504.56L539.40,505.65L540.15,506.75L540.90,507.83L541.65,508.90L542.40,509.97L543.15,511.02L543.90,512.07L544.65,513.11L545.40,514.14L546.15,515.15L546.90,516.16L547.65,517.16L548.40,518.15L549.15,519.12L549.90,520.09L550.65,521.05L551.40,521.99L552.15,522.92L552.90,523.85L553.65,524.76L554.40,525.66L555.15,526.54L555.90,527.42L556.65,528.28L557.40,529.13L558.15,529.97L558.90,530.79L559.65,531.60L560.40,532.40L561.15,533.18L561.90,533.96L562.65,534.71L563.40,535.46L564.15,536.19L564.90,536.90L565.65,537.60L566.40,538.29L567.15,538.96L567.90,539.62L568.65,540.26L569.40,540.89L570.15,541.50L570.90,542.10L571.65,542.68L572.40,543.24L573.15,543.79L573.90,544.33L574.65,544.85L575.40,545.36L576.15,545.86L576.90,546.35L577.65,546.82L578.40,547.28L579.15,547.73L579.90,548.17L580.65,548.59L581.40,549.01L582.15,549.42L582.90,549.81L583.65,550.20L584.40,550.58L585.15,550.95L585.90,551.31L586.65,551.67L587.40,552.01L588.15,552.35L588.90,552.68L589.65,553.01L590.40,553.33L591.15,553.65L591.90,553.95L592.65,554.26L593.40,554.56L594.15,554.85L594.90,555.15L595.65,555.44L596.40,555.72L597.15,556.00L597.90,556.28L597.90,399.03L598.65,399.34L599.41,399.66L600.16,399.98L600.91,400.31L601.66,400.64L602.42,400.98L603.17,401.33L603.92,401.68L604.68,402.04L605.43,402.41L606.18,402.78L606.93,403.16L607.69,403.55L608.44,403.95L609.19,404.35L609.94,404.77L610.70,405.19L611.45,405.61L612.20,406.05L612.96,406.50L613.71,406.95L614.46,407.42L615.21,407.89L615.97,408.37L616.72,408.87L617.47,409.37L618.23,409.88L618.98,410.40L619.73,410.94L620.48,411.48L621.24,412.03L621.99,412.60L622.74,413.18L623.50,413.76L624.25,414.36L625.00,414.97L625.75,415.60L626.51,416.23L627.26,416.88L628.01,417.54L628.76,418.21L629.52,418.89L630.27,419.59L631.02,420.30L631.78,421.02L632.53,421.76L633.28,422.51L634.03,423.28L634.79,424.06L635.54,424.85L636.29,425.66L637.05,426.48L637.80,427.32L638.55,428.17L639.30,429.03L640.06,429.92L640.81,430.81L641.56,431.73L642.32,432.66L643.07,433.60L643.82,434.56L644.57,435.54L645.33,436.54L646.08,437.55L646.83,438.57L647.59,439.62L648.34,440.67L649.09,441.74L649.84,442.83L650.60,443.93L651.35,445.04L652.10,446.16L652.85,447.30L653.61,448.44L654.36,449.60L655.11,450.76L655.87,451.94L656.62,453.12L657.37,454.31L658.12,455.51L658.88,456.72L659.63,457.94L660.38,459.16L661.14,460.38L661.89,461.61L662.64,462.85L663.39,464.09L664.15,465.33L664.90,466.57L665.65,467.82L666.41,469.07L667.16,470.32L667.91,471.57L668.66,472.82L669.42,474.07L670.17,475.32L670.92,476.57L671.67,477.82L672.43,479.06L673.18,480.30L673.93,481.54L674.69,482.77L675.44,484.00L676.19,485.22L676.94,486.44L677.70,487.65L678.45,488.86" fill="none" stroke="#000" stroke-width="3.2" stroke-linejoin="round" stroke-linecap="butt"/>
<line x1="44.20" y1="173.55" x2="54.70" y2="173.55" stroke="#000" stroke-width="2"/>
<line x1="44.20" y1="103.55" x2="54.70" y2="103.55" stroke="#000" stroke-width="2"/>
<line x1="44.20" y1="33.55" x2="54.70" y2="33.55" stroke="#000" stroke-width="2"/>
<line x1="119.27" y1="199.30" x2="119.27" y2="187.40" stroke="#000" stroke-width="2"/>
<line x1="194.34" y1="199.30" x2="194.34" y2="187.40" stroke="#000" stroke-width="2"/>
<line x1="269.40" y1="199.30" x2="269.40" y2="187.40" stroke="#000" stroke-width="2"/>
<rect x="44.20" y="25.70" width="300.27" height="173.60" fill="none" stroke="#000" stroke-width="3.2"/>
<line x1="374.47" y1="183.07" x2="384.97" y2="183.07" stroke="#000" stroke-width="2"/>
<line x1="374.47" y1="112.20" x2="384.97" y2="112.20" stroke="#000" stroke-width="2"/>
<line x1="374.47" y1="41.33" x2="384.97" y2="41.33" stroke="#000" stroke-width="2"/>
<line x1="449.47" y1="199.30" x2="449.47" y2="187.40" stroke="#000" stroke-width="2"/>
<line x1="524.46" y1="199.30" x2="524.46" y2="187.40" stroke="#000" stroke-width="2"/>
<line x1="599.46" y1="199.30" x2="599.46" y2="187.40" stroke="#000" stroke-width="2"/>
<rect x="374.47" y="25.70" width="299.98" height="173.60" fill="none" stroke="#000" stroke-width="3.2"/>
<line x1="44.20" y1="355.40" x2="54.70" y2="355.40" stroke="#000" stroke-width="2"/>
<line x1="44.20" y1="285.70" x2="54.70" y2="285.70" stroke="#000" stroke-width="2"/>
<line x1="44.20" y1="216.00" x2="54.70" y2="216.00" stroke="#000" stroke-width="2"/>
<line x1="119.27" y1="381.90" x2="119.27" y2="370.00" stroke="#000" stroke-width="2"/>
<line x1="194.34" y1="381.90" x2="194.34" y2="370.00" stroke="#000" stroke-width="2"/>
<line x1="269.40" y1="381.90" x2="269.40" y2="370.00" stroke="#000" stroke-width="2"/>
<rect x="44.20" y="208.30" width="300.27" height="173.60" fill="none" stroke="#000" stroke-width="3.2"/>
<line x1="374.47" y1="365.67" x2="384.97" y2="365.67" stroke="#000" stroke-width="2"/>
<line x1="374.47" y1="294.80" x2="384.97" y2="294.80" stroke="#000" stroke-width="2"/>
<line x1="374.47" y1="223.93" x2="384.97" y2="223.93" stroke="#000" stroke-width="2"/>
<line x1="449.47" y1="381.90" x2="449.47" y2="370.00" stroke="#000" stroke-width="2"/>
<line x1="524.46" y1="381.90" x2="524.46" y2="370.00" stroke="#000" stroke-width="2"/>
<line x1="599.46" y1="381.90" x2="599.46" y2="370.00" stroke="#000" stroke-width="2"/>
<rect x="374.47" y="208.30" width="299.98" height="173.60" fill="none" stroke="#000" stroke-width="3.2"/>
<line x1="44.20" y1="524.60" x2="54.70" y2="524.60" stroke="#000" stroke-width="2"/>
<line x1="44.20" y1="476.15" x2="54.70" y2="476.15" stroke="#000" stroke-width="2"/>
<line x1="44.20" y1="427.70" x2="54.70" y2="427.70" stroke="#000" stroke-width="2"/>
<line x1="119.27" y1="564.40" x2="119.27" y2="552.50" stroke="#000" stroke-width="2"/>
<line x1="194.34" y1="564.40" x2="194.34" y2="552.50" stroke="#000" stroke-width="2"/>
<line x1="269.40" y1="564.40" x2="269.40" y2="552.50" stroke="#000" stroke-width="2"/>
<rect x="44.20" y="390.80" width="300.27" height="173.60" fill="none" stroke="#000" stroke-width="3.2"/>
<line x1="374.47" y1="541.29" x2="384.97" y2="541.29" stroke="#000" stroke-width="2"/>
<line x1="374.47" y1="477.09" x2="384.97" y2="477.09" stroke="#000" stroke-width="2"/>
<line x1="374.47" y1="412.89" x2="384.97" y2="412.89" stroke="#000" stroke-width="2"/>
<line x1="449.47" y1="564.40" x2="449.47" y2="552.50" stroke="#000" stroke-width="2"/>
<line x1="524.46" y1="564.40" x2="524.46" y2="552.50" stroke="#000" stroke-width="2"/>
<line x1="599.46" y1="564.40" x2="599.46" y2="552.50" stroke="#000" stroke-width="2"/>
<rect x="374.47" y="390.80" width="299.98" height="173.60" fill="none" stroke="#000" stroke-width="3.2"/>
<g stroke="#fff">
<text transform="translate(165.29,13.71) rotate(0.05) scale(1.016,0.908)" font-size="20.0" font-style="italic" fill="#000" stroke-width="0.12">α</text>
<text transform="translate(181.50,15.03) rotate(0.05) scale(1.203,0.960)" font-size="20.0" fill="#000" stroke-width="0.11">=</text>
<text transform="translate(200.26,13.76) rotate(0.05) scale(0.838,0.985)" font-size="20.0" fill="#000" stroke-width="0.13">0</text>
<text transform="translate(208.98,13.60) rotate(0.05) scale(0.846,0.889)" font-size="20.0" fill="#000" stroke-width="0.14">.</text>
<text transform="translate(213.68,13.76) rotate(0.05) scale(0.881,0.986)" font-size="20.0" fill="#000" stroke-width="0.13">5</text>
<text transform="translate(502.08,13.71) rotate(0.05) scale(1.036,0.908)" font-size="20.0" font-style="italic" fill="#000" stroke-width="0.12">α</text>
<text transform="translate(518.65,15.03) rotate(0.05) scale(1.257,0.960)" font-size="20.0" fill="#000" stroke-width="0.11">=</text>
<text transform="translate(537.45,13.75) rotate(0.05) scale(0.824,0.985)" font-size="20.0" fill="#000" stroke-width="0.13">1</text>
<text transform="translate(26.78,588.30) rotate(0.05) scale(1.128,1.205)" font-size="20.0" fill="#000" stroke-width="0.10">−</text>
<text transform="translate(39.33,585.70) rotate(0.05) scale(0.895,1.022)" font-size="20.0" fill="#000" stroke-width="0.13">1</text>
<text transform="translate(48.46,585.64) rotate(0.05) scale(1.016,0.931)" font-size="20.0" fill="#000" stroke-width="0.12">.</text>
<text transform="translate(52.89,585.80) rotate(0.05) scale(0.932,1.045)" font-size="20.0" fill="#000" stroke-width="0.12">0</text>
<text transform="translate(101.87,588.30) rotate(0.05) scale(1.107,1.205)" font-size="20.0" fill="#000" stroke-width="0.10">−</text>
<text transform="translate(114.74,585.80) rotate(0.05) scale(0.956,1.045)" font-size="20.0" fill="#000" stroke-width="0.12">0</text>
<text transform="translate(123.74,585.64) rotate(0.05) scale(0.931,0.931)" font-size="20.0" fill="#000" stroke-width="0.13">.</text>
<text transform="translate(127.51,585.80) rotate(0.05) scale(0.993,1.046)" font-size="20.0" fill="#000" stroke-width="0.12">5</text>
<text transform="translate(182.84,585.80) rotate(0.05) scale(0.908,1.045)" font-size="20.0" fill="#000" stroke-width="0.12">0</text>
<text transform="translate(191.91,585.64) rotate(0.05) scale(0.931,0.931)" font-size="20.0" fill="#000" stroke-width="0.13">.</text>
<text transform="translate(196.43,585.80) rotate(0.05) scale(0.932,1.045)" font-size="20.0" fill="#000" stroke-width="0.12">0</text>
<text transform="translate(257.77,585.80) rotate(0.05) scale(0.956,1.045)" font-size="20.0" fill="#000" stroke-width="0.12">0</text>
<text transform="translate(266.98,585.64) rotate(0.05) scale(0.931,0.931)" font-size="20.0" fill="#000" stroke-width="0.13">.</text>
<text transform="translate(270.85,585.80) rotate(0.05) scale(0.993,1.046)" font-size="20.0" fill="#000" stroke-width="0.12">5</text>
<text transform="translate(332.60,585.70) rotate(0.05) scale(0.895,1.022)" font-size="20.0" fill="#000" stroke-width="0.13">1</text>
<text transform="translate(341.73,585.64) rotate(0.05) scale(1.016,0.931)" font-size="20.0" fill="#000" stroke-width="0.12">.</text>
<text transform="translate(346.16,585.80) rotate(0.05) scale(0.932,1.045)" font-size="20.0" fill="#000" stroke-width="0.12">0</text>
<text transform="translate(357.05,588.30) rotate(0.05) scale(1.128,1.205)" font-size="20.0" fill="#000" stroke-width="0.10">−</text>
<text transform="translate(369.60,585.70) rotate(0.05) scale(0.895,1.022)" font-size="20.0" fill="#000" stroke-width="0.13">1</text>
<text transform="translate(378.73,585.64) rotate(0.05) scale(1.016,0.931)" font-size="20.0" fill="#000" stroke-width="0.12">.</text>
<text transform="translate(383.16,585.80) rotate(0.05) scale(0.932,1.045)" font-size="20.0" fill="#000" stroke-width="0.12">0</text>
<text transform="translate(432.06,588.30) rotate(0.05) scale(1.107,1.205)" font-size="20.0" fill="#000" stroke-width="0.10">−</text>
<text transform="translate(444.94,585.80) rotate(0.05) scale(0.956,1.045)" font-size="20.0" fill="#000" stroke-width="0.12">0</text>
<text transform="translate(453.94,585.64) rotate(0.05) scale(0.931,0.931)" font-size="20.0" fill="#000" stroke-width="0.13">.</text>
<text transform="translate(457.71,585.80) rotate(0.05) scale(0.993,1.046)" font-size="20.0" fill="#000" stroke-width="0.12">5</text>
<text transform="translate(512.97,585.80) rotate(0.05) scale(0.908,1.045)" font-size="20.0" fill="#000" stroke-width="0.12">0</text>
<text transform="translate(522.03,585.64) rotate(0.05) scale(0.931,0.931)" font-size="20.0" fill="#000" stroke-width="0.13">.</text>
<text transform="translate(526.55,585.80) rotate(0.05) scale(0.932,1.045)" font-size="20.0" fill="#000" stroke-width="0.12">0</text>
<text transform="translate(587.83,585.80) rotate(0.05) scale(0.956,1.045)" font-size="20.0" fill="#000" stroke-width="0.12">0</text>
<text transform="translate(597.03,585.64) rotate(0.05) scale(0.931,0.931)" font-size="20.0" fill="#000" stroke-width="0.13">.</text>
<text transform="translate(600.90,585.80) rotate(0.05) scale(0.993,1.046)" font-size="20.0" fill="#000" stroke-width="0.12">5</text>
<text transform="translate(662.58,585.70) rotate(0.05) scale(0.895,1.022)" font-size="20.0" fill="#000" stroke-width="0.13">1</text>
<text transform="translate(671.71,585.64) rotate(0.05) scale(1.016,0.931)" font-size="20.0" fill="#000" stroke-width="0.12">.</text>
<text transform="translate(676.14,585.80) rotate(0.05) scale(0.932,1.045)" font-size="20.0" fill="#000" stroke-width="0.12">0</text>
<text transform="translate(173.69,613.00) rotate(0.05) scale(0.843,1.084)" font-size="20.0" fill="#000" stroke-width="0.12">Φ</text>
<text transform="translate(187.10,617.42) rotate(0.05) scale(1.386,1.458)" font-size="20.0" fill="#000" stroke-width="0.08">/</text>
<text transform="translate(195.04,613.00) rotate(0.05) scale(0.917,1.084)" font-size="20.0" fill="#000" stroke-width="0.12">Φ</text>
<text transform="translate(207.54,615.87) rotate(0.05) scale(0.731,0.667)" font-size="20.0" fill="#000" stroke-width="0.17">0</text>
<text transform="translate(503.81,613.00) rotate(0.05) scale(0.843,1.084)" font-size="20.0" fill="#000" stroke-width="0.12">Φ</text>
<text transform="translate(517.23,617.42) rotate(0.05) scale(1.386,1.458)" font-size="20.0" fill="#000" stroke-width="0.08">/</text>
<text transform="translate(525.17,613.00) rotate(0.05) scale(0.917,1.084)" font-size="20.0" fill="#000" stroke-width="0.12">Φ</text>
<text transform="translate(537.67,615.87) rotate(0.05) scale(0.731,0.667)" font-size="20.0" fill="#000" stroke-width="0.17">0</text>
<text transform="translate(34.90,36.60) rotate(-89.95) scale(0.966,0.901)" font-size="20.0" fill="#000" stroke-width="0.13">1</text>
<text transform="translate(34.92,106.57) rotate(-89.95) scale(1.015,0.897)" font-size="20.0" fill="#000" stroke-width="0.13">0</text>
<text transform="translate(34.90,176.60) rotate(-89.95) scale(0.966,0.901)" font-size="20.0" fill="#000" stroke-width="0.13">1</text>
<text transform="translate(37.78,191.43) rotate(-89.95) scale(1.289,1.104)" font-size="20.0" fill="#000" stroke-width="0.10">−</text>
<text transform="translate(34.90,219.05) rotate(-89.95) scale(0.966,0.901)" font-size="20.0" fill="#000" stroke-width="0.13">1</text>
<text transform="translate(34.92,288.72) rotate(-89.95) scale(1.015,0.897)" font-size="20.0" fill="#000" stroke-width="0.13">0</text>
<text transform="translate(34.90,358.45) rotate(-89.95) scale(0.966,0.901)" font-size="20.0" fill="#000" stroke-width="0.13">1</text>
<text transform="translate(37.78,373.28) rotate(-89.95) scale(1.289,1.104)" font-size="20.0" fill="#000" stroke-width="0.10">−</text>
<text transform="translate(34.90,430.75) rotate(-89.95) scale(0.966,0.901)" font-size="20.0" fill="#000" stroke-width="0.13">1</text>
<text transform="translate(34.92,479.17) rotate(-89.95) scale(1.015,0.897)" font-size="20.0" fill="#000" stroke-width="0.13">0</text>
<text transform="translate(34.90,527.65) rotate(-89.95) scale(0.966,0.901)" font-size="20.0" fill="#000" stroke-width="0.13">1</text>
<text transform="translate(37.78,542.48) rotate(-89.95) scale(1.289,1.104)" font-size="20.0" fill="#000" stroke-width="0.10">−</text>
<text transform="translate(13.35,182.22) rotate(-89.95) scale(1.068,0.857)" font-size="20.0" font-style="italic" fill="#000" stroke-width="0.12">j</text>
<text transform="translate(18.13,175.73) rotate(-89.95) scale(0.840,0.637)" font-size="20.0" font-style="italic" fill="#000" stroke-width="0.16">Q</text>
<text transform="translate(9.07,174.24) rotate(-89.95) scale(1.042,1.004)" font-size="20.0" fill="#000" stroke-width="0.12">−</text>
<text transform="translate(13.62,153.39) rotate(-89.95) scale(1.012,0.982)" font-size="20.0" fill="#000" stroke-width="0.12">(</text>
<text transform="translate(15.72,145.39) rotate(-89.95) scale(1.192,1.093)" font-size="20.0" fill="#000" stroke-width="0.11">×</text>
<text transform="translate(13.30,130.62) rotate(-89.95) scale(0.923,0.916)" font-size="20.0" fill="#000" stroke-width="0.13">1</text>
<text transform="translate(13.12,120.43) rotate(-89.95) scale(0.956,0.897)" font-size="20.0" fill="#000" stroke-width="0.13">0</text>
<text transform="translate(10.17,109.80) rotate(-89.95) scale(0.999,1.004)" font-size="20.0" fill="#000" stroke-width="0.12">−</text>
<text transform="translate(12.93,97.18) rotate(-89.95) scale(1.029,0.863)" font-size="20.0" fill="#000" stroke-width="0.13">3</text>
<text transform="translate(12.93,79.88) rotate(-89.95) scale(0.962,0.846)" font-size="20.0" fill="#000" stroke-width="0.13">a</text>
<text transform="translate(12.92,69.44) rotate(-89.95) scale(0.635,0.635)" font-size="20.0" fill="#000" stroke-width="0.19">.</text>
<text transform="translate(12.94,62.82) rotate(-89.95) scale(0.852,0.811)" font-size="20.0" fill="#000" stroke-width="0.14">u</text>
<text transform="translate(12.94,52.99) rotate(-89.95) scale(0.677,0.550)" font-size="20.0" fill="#000" stroke-width="0.20">.</text>
<text transform="translate(13.85,48.63) rotate(-89.95) scale(0.973,0.998)" font-size="20.0" fill="#000" stroke-width="0.12">)</text>
<text transform="translate(13.35,364.82) rotate(-89.95) scale(1.068,0.857)" font-size="20.0" font-style="italic" fill="#000" stroke-width="0.12">j</text>
<text transform="translate(18.13,358.33) rotate(-89.95) scale(0.840,0.637)" font-size="20.0" font-style="italic" fill="#000" stroke-width="0.16">Q</text>
<text transform="translate(9.07,356.84) rotate(-89.95) scale(1.042,1.004)" font-size="20.0" fill="#000" stroke-width="0.12">−</text>
<text transform="translate(13.62,335.99) rotate(-89.95) scale(1.012,0.982)" font-size="20.0" fill="#000" stroke-width="0.12">(</text>
<text transform="translate(15.72,327.99) rotate(-89.95) scale(1.192,1.093)" font-size="20.0" fill="#000" stroke-width="0.11">×</text>
<text transform="translate(13.30,313.22) rotate(-89.95) scale(0.923,0.916)" font-size="20.0" fill="#000" stroke-width="0.13">1</text>
<text transform="translate(13.12,303.03) rotate(-89.95) scale(0.956,0.897)" font-size="20.0" fill="#000" stroke-width="0.13">0</text>
<text transform="translate(10.17,292.40) rotate(-89.95) scale(0.999,1.004)" font-size="20.0" fill="#000" stroke-width="0.12">−</text>
<text transform="translate(12.93,279.78) rotate(-89.95) scale(1.029,0.863)" font-size="20.0" fill="#000" stroke-width="0.13">3</text>
<text transform="translate(12.93,262.48) rotate(-89.95) scale(0.962,0.846)" font-size="20.0" fill="#000" stroke-width="0.13">a</text>
<text transform="translate(12.92,252.04) rotate(-89.95) scale(0.635,0.635)" font-size="20.0" fill="#000" stroke-width="0.19">.</text>
<text transform="translate(12.94,245.42) rotate(-89.95) scale(0.852,0.811)" font-size="20.0" fill="#000" stroke-width="0.14">u</text>
<text transform="translate(12.94,235.59) rotate(-89.95) scale(0.677,0.550)" font-size="20.0" fill="#000" stroke-width="0.20">.</text>
<text transform="translate(13.85,231.23) rotate(-89.95) scale(0.973,0.998)" font-size="20.0" fill="#000" stroke-width="0.12">)</text>
<text transform="translate(13.35,547.42) rotate(-89.95) scale(1.068,0.857)" font-size="20.0" font-style="italic" fill="#000" stroke-width="0.12">j</text>
<text transform="translate(18.13,540.93) rotate(-89.95) scale(0.840,0.637)" font-size="20.0" font-style="italic" fill="#000" stroke-width="0.16">Q</text>
<text transform="translate(9.07,539.44) rotate(-89.95) scale(1.042,1.004)" font-size="20.0" fill="#000" stroke-width="0.12">−</text>
<text transform="translate(13.62,518.59) rotate(-89.95) scale(1.012,0.982)" font-size="20.0" fill="#000" stroke-width="0.12">(</text>
<text transform="translate(15.72,510.59) rotate(-89.95) scale(1.192,1.093)" font-size="20.0" fill="#000" stroke-width="0.11">×</text>
<text transform="translate(13.30,495.82) rotate(-89.95) scale(0.923,0.916)" font-size="20.0" fill="#000" stroke-width="0.13">1</text>
<text transform="translate(13.12,485.63) rotate(-89.95) scale(0.956,0.897)" font-size="20.0" fill="#000" stroke-width="0.13">0</text>
<text transform="translate(10.17,475.00) rotate(-89.95) scale(0.999,1.004)" font-size="20.0" fill="#000" stroke-width="0.12">−</text>
<text transform="translate(12.93,462.38) rotate(-89.95) scale(1.029,0.863)" font-size="20.0" fill="#000" stroke-width="0.13">3</text>
<text transform="translate(12.93,445.08) rotate(-89.95) scale(0.962,0.846)" font-size="20.0" fill="#000" stroke-width="0.13">a</text>
<text transform="translate(12.92,434.64) rotate(-89.95) scale(0.635,0.635)" font-size="20.0" fill="#000" stroke-width="0.19">.</text>
<text transform="translate(12.94,428.02) rotate(-89.95) scale(0.852,0.811)" font-size="20.0" fill="#000" stroke-width="0.14">u</text>
<text transform="translate(12.94,418.19) rotate(-89.95) scale(0.677,0.550)" font-size="20.0" fill="#000" stroke-width="0.20">.</text>
<text transform="translate(13.85,413.83) rotate(-89.95) scale(0.973,0.998)" font-size="20.0" fill="#000" stroke-width="0.12">)</text>
<text transform="translate(119.85,173.26) rotate(0.05) scale(0.857,1.114)" font-size="20.0" fill="#bf00bf" stroke-width="0.15">(</text>
<text transform="translate(125.69,173.20) rotate(0.05) scale(1.017,0.977)" font-size="20.0" font-style="italic" fill="#bf00bf" stroke-width="0.15">a</text>
<text transform="translate(135.42,173.26) rotate(0.05) scale(0.896,1.114)" font-size="20.0" fill="#bf00bf" stroke-width="0.15">)</text>
<text transform="translate(143.32,173.60) rotate(0.05) scale(1.063,1.023)" font-size="20.0" font-style="italic" fill="#bf00bf" stroke-width="0.14">λ</text>
<text transform="translate(153.19,176.90) rotate(0.05) scale(0.826,0.771)" font-size="20.0" font-style="italic" fill="#bf00bf" stroke-width="0.19">R</text>
<text transform="translate(168.60,175.04) rotate(0.05) scale(1.300,1.000)" font-size="20.0" fill="#bf00bf" stroke-width="0.13">=</text>
<text transform="translate(186.88,173.10) rotate(0.05) scale(0.944,1.045)" font-size="20.0" fill="#bf00bf" stroke-width="0.15">0</text>
<text transform="translate(196.37,172.79) rotate(0.05) scale(0.931,1.100)" font-size="20.0" fill="#bf00bf" stroke-width="0.15">.</text>
<text transform="translate(200.53,173.10) rotate(0.05) scale(0.918,1.023)" font-size="20.0" fill="#bf00bf" stroke-width="0.15">5</text>
<text transform="translate(209.08,172.99) rotate(0.05) scale(1.162,1.091)" font-size="20.0" font-style="italic" fill="#bf00bf" stroke-width="0.13">t</text>
<text transform="translate(216.88,173.07) rotate(0.05) scale(0.940,1.246)" font-size="20.0" fill="#bf00bf" stroke-width="0.14">,</text>
<text transform="translate(224.26,173.20) rotate(0.05) scale(0.943,1.009)" font-size="20.0" font-style="italic" fill="#bf00bf" stroke-width="0.15">k</text>
<text transform="translate(233.27,173.44) rotate(0.05) scale(1.026,1.023)" font-size="20.0" font-style="italic" fill="#bf00bf" stroke-width="0.15">η</text>
<text transform="translate(247.49,175.04) rotate(0.05) scale(1.311,1.000)" font-size="20.0" fill="#bf00bf" stroke-width="0.13">=</text>
<text transform="translate(266.18,173.10) rotate(0.05) scale(0.944,1.045)" font-size="20.0" fill="#bf00bf" stroke-width="0.15">0</text>
<text transform="translate(449.95,168.86) rotate(0.05) scale(0.857,1.114)" font-size="20.0" fill="#bf00bf" stroke-width="0.15">(</text>
<text transform="translate(456.23,168.61) rotate(0.05) scale(0.763,0.995)" font-size="20.0" font-style="italic" fill="#bf00bf" stroke-width="0.17">b</text>
<text transform="translate(463.82,168.86) rotate(0.05) scale(0.896,1.114)" font-size="20.0" fill="#bf00bf" stroke-width="0.15">)</text>
<text transform="translate(471.72,169.20) rotate(0.05) scale(1.063,1.023)" font-size="20.0" font-style="italic" fill="#bf00bf" stroke-width="0.14">λ</text>
<text transform="translate(481.59,172.50) rotate(0.05) scale(0.826,0.771)" font-size="20.0" font-style="italic" fill="#bf00bf" stroke-width="0.19">R</text>
<text transform="translate(497.00,170.64) rotate(0.05) scale(1.300,1.000)" font-size="20.0" fill="#bf00bf" stroke-width="0.13">=</text>
<text transform="translate(515.28,168.70) rotate(0.05) scale(0.944,1.045)" font-size="20.0" fill="#bf00bf" stroke-width="0.15">0</text>
<text transform="translate(524.77,168.39) rotate(0.05) scale(0.931,1.100)" font-size="20.0" fill="#bf00bf" stroke-width="0.15">.</text>
<text transform="translate(528.93,168.70) rotate(0.05) scale(0.918,1.023)" font-size="20.0" fill="#bf00bf" stroke-width="0.15">5</text>
<text transform="translate(537.48,168.59) rotate(0.05) scale(1.162,1.091)" font-size="20.0" font-style="italic" fill="#bf00bf" stroke-width="0.13">t</text>
<text transform="translate(545.28,168.67) rotate(0.05) scale(0.940,1.246)" font-size="20.0" fill="#bf00bf" stroke-width="0.14">,</text>
<text transform="translate(552.66,168.80) rotate(0.05) scale(0.943,1.009)" font-size="20.0" font-style="italic" fill="#bf00bf" stroke-width="0.15">k</text>
<text transform="translate(561.67,169.04) rotate(0.05) scale(1.026,1.023)" font-size="20.0" font-style="italic" fill="#bf00bf" stroke-width="0.15">η</text>
<text transform="translate(575.89,170.64) rotate(0.05) scale(1.311,1.000)" font-size="20.0" fill="#bf00bf" stroke-width="0.13">=</text>
<text transform="translate(594.58,168.70) rotate(0.05) scale(0.944,1.045)" font-size="20.0" fill="#bf00bf" stroke-width="0.15">0</text>
<text transform="translate(119.95,355.26) rotate(0.05) scale(0.857,1.114)" font-size="20.0" fill="#bf00bf" stroke-width="0.15">(</text>
<text transform="translate(125.83,355.21) rotate(0.05) scale(0.920,0.977)" font-size="20.0" font-style="italic" fill="#bf00bf" stroke-width="0.16">c</text>
<text transform="translate(133.77,355.26) rotate(0.05) scale(0.896,1.114)" font-size="20.0" fill="#bf00bf" stroke-width="0.15">)</text>
<text transform="translate(141.67,355.60) rotate(0.05) scale(1.063,1.023)" font-size="20.0" font-style="italic" fill="#bf00bf" stroke-width="0.14">λ</text>
<text transform="translate(151.54,358.90) rotate(0.05) scale(0.826,0.771)" font-size="20.0" font-style="italic" fill="#bf00bf" stroke-width="0.19">R</text>
<text transform="translate(166.95,357.04) rotate(0.05) scale(1.300,1.000)" font-size="20.0" fill="#bf00bf" stroke-width="0.13">=</text>
<text transform="translate(185.23,355.10) rotate(0.05) scale(0.944,1.045)" font-size="20.0" fill="#bf00bf" stroke-width="0.15">0</text>
<text transform="translate(194.72,354.79) rotate(0.05) scale(0.931,1.100)" font-size="20.0" fill="#bf00bf" stroke-width="0.15">.</text>
<text transform="translate(198.88,355.10) rotate(0.05) scale(0.918,1.023)" font-size="20.0" fill="#bf00bf" stroke-width="0.15">5</text>
<text transform="translate(207.43,354.99) rotate(0.05) scale(1.162,1.091)" font-size="20.0" font-style="italic" fill="#bf00bf" stroke-width="0.13">t</text>
<text transform="translate(215.23,355.07) rotate(0.05) scale(0.940,1.246)" font-size="20.0" fill="#bf00bf" stroke-width="0.14">,</text>
<text transform="translate(222.61,355.20) rotate(0.05) scale(0.943,1.009)" font-size="20.0" font-style="italic" fill="#bf00bf" stroke-width="0.15">k</text>
<text transform="translate(231.62,355.44) rotate(0.05) scale(1.026,1.023)" font-size="20.0" font-style="italic" fill="#bf00bf" stroke-width="0.15">η</text>
<text transform="translate(245.84,357.04) rotate(0.05) scale(1.311,1.000)" font-size="20.0" fill="#bf00bf" stroke-width="0.13">=</text>
<text transform="translate(264.06,355.10) rotate(0.05) scale(0.908,1.045)" font-size="20.0" fill="#bf00bf" stroke-width="0.15">0</text>
<text transform="translate(273.13,354.79) rotate(0.05) scale(0.846,1.100)" font-size="20.0" fill="#bf00bf" stroke-width="0.15">.</text>
<text transform="translate(277.73,355.19) rotate(0.05) scale(0.956,1.057)" font-size="20.0" fill="#bf00bf" stroke-width="0.15">3</text>
<text transform="translate(449.95,351.06) rotate(0.05) scale(0.857,1.114)" font-size="20.0" fill="#bf00bf" stroke-width="0.15">(</text>
<text transform="translate(455.87,350.99) rotate(0.05) scale(0.879,1.008)" font-size="20.0" font-style="italic" fill="#bf00bf" stroke-width="0.16">d</text>
<text transform="translate(465.37,351.06) rotate(0.05) scale(0.896,1.114)" font-size="20.0" fill="#bf00bf" stroke-width="0.15">)</text>
<text transform="translate(473.27,351.40) rotate(0.05) scale(1.063,1.023)" font-size="20.0" font-style="italic" fill="#bf00bf" stroke-width="0.14">λ</text>
<text transform="translate(483.14,354.70) rotate(0.05) scale(0.826,0.771)" font-size="20.0" font-style="italic" fill="#bf00bf" stroke-width="0.19">R</text>
<text transform="translate(498.55,352.84) rotate(0.05) scale(1.300,1.000)" font-size="20.0" fill="#bf00bf" stroke-width="0.13">=</text>
<text transform="translate(516.83,350.90) rotate(0.05) scale(0.944,1.045)" font-size="20.0" fill="#bf00bf" stroke-width="0.15">0</text>
<text transform="translate(526.32,350.59) rotate(0.05) scale(0.931,1.100)" font-size="20.0" fill="#bf00bf" stroke-width="0.15">.</text>
<text transform="translate(530.48,350.90) rotate(0.05) scale(0.918,1.023)" font-size="20.0" fill="#bf00bf" stroke-width="0.15">5</text>
<text transform="translate(539.03,350.79) rotate(0.05) scale(1.162,1.091)" font-size="20.0" font-style="italic" fill="#bf00bf" stroke-width="0.13">t</text>
<text transform="translate(546.83,350.87) rotate(0.05) scale(0.940,1.246)" font-size="20.0" fill="#bf00bf" stroke-width="0.14">,</text>
<text transform="translate(554.21,351.00) rotate(0.05) scale(0.943,1.009)" font-size="20.0" font-style="italic" fill="#bf00bf" stroke-width="0.15">k</text>
<text transform="translate(563.22,351.24) rotate(0.05) scale(1.026,1.023)" font-size="20.0" font-style="italic" fill="#bf00bf" stroke-width="0.15">η</text>
<text transform="translate(577.44,352.84) rotate(0.05) scale(1.311,1.000)" font-size="20.0" fill="#bf00bf" stroke-width="0.13">=</text>
<text transform="translate(595.66,350.90) rotate(0.05) scale(0.908,1.045)" font-size="20.0" fill="#bf00bf" stroke-width="0.15">0</text>
<text transform="translate(604.73,350.59) rotate(0.05) scale(0.846,1.100)" font-size="20.0" fill="#bf00bf" stroke-width="0.15">.</text>
<text transform="translate(609.33,350.99) rotate(0.05) scale(0.956,1.057)" font-size="20.0" fill="#bf00bf" stroke-width="0.15">3</text>
<text transform="translate(119.95,524.76) rotate(0.05) scale(0.857,1.114)" font-size="20.0" fill="#bf00bf" stroke-width="0.15">(</text>
<text transform="translate(125.82,524.71) rotate(0.05) scale(0.947,0.977)" font-size="20.0" font-style="italic" fill="#bf00bf" stroke-width="0.16">e</text>
<text transform="translate(134.17,524.76) rotate(0.05) scale(0.896,1.114)" font-size="20.0" fill="#bf00bf" stroke-width="0.15">)</text>
<text transform="translate(142.07,525.10) rotate(0.05) scale(1.063,1.023)" font-size="20.0" font-style="italic" fill="#bf00bf" stroke-width="0.14">λ</text>
<text transform="translate(151.94,528.40) rotate(0.05) scale(0.826,0.771)" font-size="20.0" font-style="italic" fill="#bf00bf" stroke-width="0.19">R</text>
<text transform="translate(167.35,526.54) rotate(0.05) scale(1.300,1.000)" font-size="20.0" fill="#bf00bf" stroke-width="0.13">=</text>
<text transform="translate(185.63,524.60) rotate(0.05) scale(0.944,1.045)" font-size="20.0" fill="#bf00bf" stroke-width="0.15">0</text>
<text transform="translate(195.12,524.29) rotate(0.05) scale(0.931,1.100)" font-size="20.0" fill="#bf00bf" stroke-width="0.15">.</text>
<text transform="translate(199.69,524.60) rotate(0.05) scale(0.873,1.045)" font-size="20.0" fill="#bf00bf" stroke-width="0.16">8</text>
<text transform="translate(207.83,524.49) rotate(0.05) scale(1.162,1.091)" font-size="20.0" font-style="italic" fill="#bf00bf" stroke-width="0.13">t</text>
<text transform="translate(215.63,524.57) rotate(0.05) scale(0.940,1.246)" font-size="20.0" fill="#bf00bf" stroke-width="0.14">,</text>
<text transform="translate(223.01,524.70) rotate(0.05) scale(0.943,1.009)" font-size="20.0" font-style="italic" fill="#bf00bf" stroke-width="0.15">k</text>
<text transform="translate(232.02,524.94) rotate(0.05) scale(1.026,1.023)" font-size="20.0" font-style="italic" fill="#bf00bf" stroke-width="0.15">η</text>
<text transform="translate(246.24,526.54) rotate(0.05) scale(1.311,1.000)" font-size="20.0" fill="#bf00bf" stroke-width="0.13">=</text>
<text transform="translate(264.46,524.60) rotate(0.05) scale(0.908,1.045)" font-size="20.0" fill="#bf00bf" stroke-width="0.15">0</text>
<text transform="translate(273.53,524.29) rotate(0.05) scale(0.846,1.100)" font-size="20.0" fill="#bf00bf" stroke-width="0.15">.</text>
<text transform="translate(278.13,524.69) rotate(0.05) scale(0.956,1.057)" font-size="20.0" fill="#bf00bf" stroke-width="0.15">3</text>
<text transform="translate(449.95,528.26) rotate(0.05) scale(0.857,1.114)" font-size="20.0" fill="#bf00bf" stroke-width="0.15">(</text>
<text transform="translate(456.53,528.04) rotate(0.05) scale(1.205,0.954)" font-size="20.0" font-style="italic" fill="#bf00bf" stroke-width="0.14">f</text>
<text transform="translate(466.77,528.26) rotate(0.05) scale(0.896,1.114)" font-size="20.0" fill="#bf00bf" stroke-width="0.15">)</text>
<text transform="translate(474.67,528.60) rotate(0.05) scale(1.063,1.023)" font-size="20.0" font-style="italic" fill="#bf00bf" stroke-width="0.14">λ</text>
<text transform="translate(484.54,531.90) rotate(0.05) scale(0.826,0.771)" font-size="20.0" font-style="italic" fill="#bf00bf" stroke-width="0.19">R</text>
<text transform="translate(499.95,530.04) rotate(0.05) scale(1.300,1.000)" font-size="20.0" fill="#bf00bf" stroke-width="0.13">=</text>
<text transform="translate(518.23,528.10) rotate(0.05) scale(0.944,1.045)" font-size="20.0" fill="#bf00bf" stroke-width="0.15">0</text>
<text transform="translate(527.72,527.79) rotate(0.05) scale(0.931,1.100)" font-size="20.0" fill="#bf00bf" stroke-width="0.15">.</text>
<text transform="translate(532.29,528.10) rotate(0.05) scale(0.873,1.045)" font-size="20.0" fill="#bf00bf" stroke-width="0.16">8</text>
<text transform="translate(540.43,527.99) rotate(0.05) scale(1.162,1.091)" font-size="20.0" font-style="italic" fill="#bf00bf" stroke-width="0.13">t</text>
<text transform="translate(548.23,528.07) rotate(0.05) scale(0.940,1.246)" font-size="20.0" fill="#bf00bf" stroke-width="0.14">,</text>
<text transform="translate(555.61,528.20) rotate(0.05) scale(0.943,1.009)" font-size="20.0" font-style="italic" fill="#bf00bf" stroke-width="0.15">k</text>
<text transform="translate(564.62,528.44) rotate(0.05) scale(1.026,1.023)" font-size="20.0" font-style="italic" fill="#bf00bf" stroke-width="0.15">η</text>
<text transform="translate(578.84,530.04) rotate(0.05) scale(1.311,1.000)" font-size="20.0" fill="#bf00bf" stroke-width="0.13">=</text>
<text transform="translate(597.06,528.10) rotate(0.05) scale(0.908,1.045)" font-size="20.0" fill="#bf00bf" stroke-width="0.15">0</text>
<text transform="translate(606.13,527.79) rotate(0.05) scale(0.846,1.100)" font-size="20.0" fill="#bf00bf" stroke-width="0.15">.</text>
<text transform="translate(610.73,528.19) rotate(0.05) scale(0.956,1.057)" font-size="20.0" fill="#bf00bf" stroke-width="0.15">3</text>
<text transform="translate(209.44,247.50) rotate(0.05) scale(0.977,0.958)" font-size="20.0" font-style="italic" fill="#0000ff" stroke-width="0.15">k</text>
<text transform="translate(218.23,247.92) rotate(0.05) scale(1.086,0.840)" font-size="20.0" font-style="italic" fill="#0000ff" stroke-width="0.16">η</text>
<text transform="translate(442.14,230.70) rotate(0.05) scale(0.966,0.958)" font-size="20.0" font-style="italic" fill="#0000ff" stroke-width="0.16">k</text>
<text transform="translate(450.89,231.05) rotate(0.05) scale(1.003,0.833)" font-size="20.0" font-style="italic" fill="#0000ff" stroke-width="0.16">η</text>
</g>
<path d="M197.1,264.7 L197.1,216.1" stroke="#ff0000" stroke-width="3.2" stroke-dasharray="10.6 4.3" fill="none"/>
<path d="M431.45,248.7 L431.45,216.3" stroke="#ff0000" stroke-width="3.2" stroke-dasharray="10.8 4.3" fill="none"/>
<path d="M201.35,254.40 L241.15,254.40 M209.35,249.90 L201.35,254.40 L209.35,258.90 M233.15,249.90 L241.15,254.40 L233.15,258.90" stroke="#0000ff" stroke-width="2.3" fill="none" stroke-linejoin="round" stroke-linecap="butt"/>
<path d="M431.25,234.40 L473.65,234.40 M439.25,230.00 L431.25,234.40 L439.25,238.80 M465.65,230.00 L473.65,234.40 L465.65,238.80" stroke="#0000ff" stroke-width="2.3" fill="none" stroke-linejoin="round" stroke-linecap="butt"/>
<path d="M73.30,91.80 L73.30,65.20 M68.70,70.40 L73.30,65.20 L77.90,70.40" stroke="#ff0000" stroke-width="1.2" fill="none"/>
<path d="M140.65,93.10 L140.65,119.00 M136.05,113.80 L140.65,119.00 L145.25,113.80" stroke="#ff0000" stroke-width="1.2" fill="none"/>
<path d="M500.65,96.10 L500.65,122.00 M496.05,116.80 L500.65,122.00 L505.25,116.80" stroke="#ff0000" stroke-width="1.2" fill="none"/>
</svg>
</body></html>
